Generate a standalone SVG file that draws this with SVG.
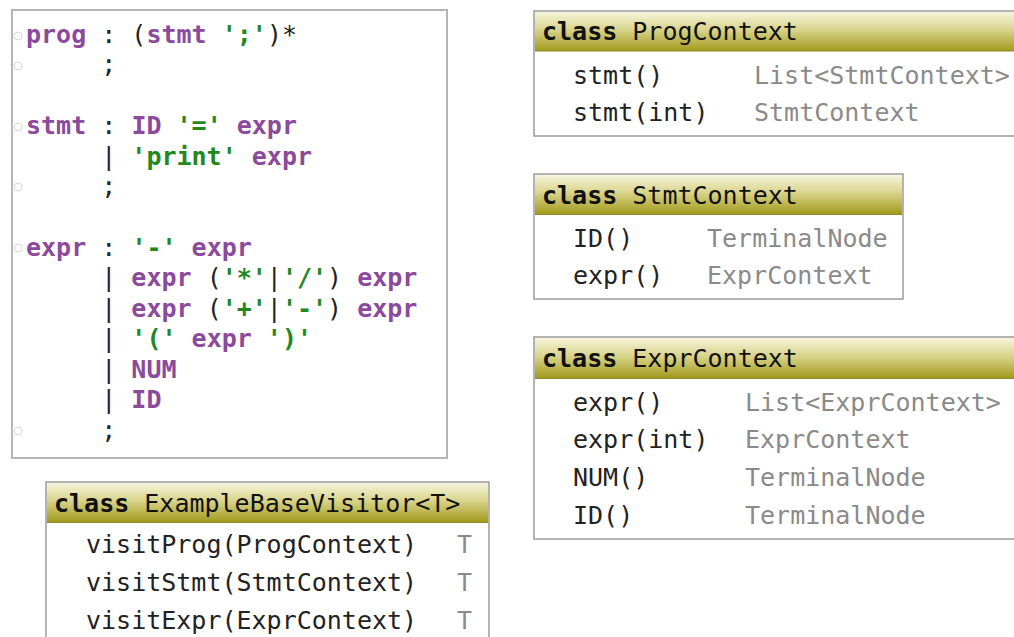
<svg xmlns="http://www.w3.org/2000/svg" width="1014" height="637" viewBox="0 0 1014 637">
<defs>
<linearGradient id="hdr" x1="0" y1="0" x2="0" y2="1">
<stop offset="0" stop-color="#f6f5dc"/>
<stop offset="0.45" stop-color="#d9d48c"/>
<stop offset="1" stop-color="#a39b1c"/>
</linearGradient>
<style>
.box{fill:#fff;stroke:#9a9a9a;stroke-width:1.5}
.hdr{fill:url(#hdr)}
.hline{stroke:#8f8a2a;stroke-width:1}
.mono{font-family:"DejaVu Sans Mono","Liberation Mono",monospace;font-size:25px}
.title{fill:#111}
.kw{font-weight:bold}
.mem{fill:#222}
.typ{fill:#8a8a8a}
.g{font-family:"DejaVu Sans Mono","Liberation Mono",monospace;font-size:25px;fill:#222}
.r{fill:#8b4a9b;font-weight:bold}
.s{fill:#23891f;font-weight:bold}
.fold{fill:none;stroke:#d8d8d8;stroke-width:1}
</style>
</defs>
<rect width="1014" height="637" fill="#fff"/>

<g id="grammar">
<rect x="12" y="10" width="435" height="448" fill="#fff" stroke="#b5b5b5" stroke-width="2"/>
<g class="fold">
<circle cx="18" cy="36" r="4"/><circle cx="18" cy="66" r="4"/><circle cx="18" cy="127" r="4"/><circle cx="18" cy="187" r="4"/><circle cx="18" cy="248" r="4"/><circle cx="18" cy="431" r="4"/>
</g>
<text class="g" x="26" y="43" xml:space="preserve"><tspan class="r">prog</tspan> : (<tspan class="r">stmt</tspan> <tspan class="s">';'</tspan>)*</text>
<text class="g" x="26" y="73" xml:space="preserve">     ;</text>
<text class="g" x="26" y="134" xml:space="preserve"><tspan class="r">stmt</tspan> : <tspan class="r">ID</tspan> <tspan class="s">'='</tspan> <tspan class="r">expr</tspan></text>
<text class="g" x="26" y="164.5" xml:space="preserve">     | <tspan class="s">'print'</tspan> <tspan class="r">expr</tspan></text>
<text class="g" x="26" y="195" xml:space="preserve">     ;</text>
<text class="g" x="26" y="255.5" xml:space="preserve"><tspan class="r">expr</tspan> : <tspan class="s">'-'</tspan> <tspan class="r">expr</tspan></text>
<text class="g" x="26" y="286" xml:space="preserve">     | <tspan class="r">expr</tspan> (<tspan class="s">'*'</tspan>|<tspan class="s">'/'</tspan>) <tspan class="r">expr</tspan></text>
<text class="g" x="26" y="316.5" xml:space="preserve">     | <tspan class="r">expr</tspan> (<tspan class="s">'+'</tspan>|<tspan class="s">'-'</tspan>) <tspan class="r">expr</tspan></text>
<text class="g" x="26" y="347" xml:space="preserve">     | <tspan class="s">'('</tspan> <tspan class="r">expr</tspan> <tspan class="s">')'</tspan></text>
<text class="g" x="26" y="377.5" xml:space="preserve">     | <tspan class="r">NUM</tspan></text>
<text class="g" x="26" y="408" xml:space="preserve">     | <tspan class="r">ID</tspan></text>
<text class="g" x="26" y="438.5" xml:space="preserve">     ;</text>
</g>

<g id="ProgContext">
<rect class="box" x="534" y="11" width="490" height="125"/>
<rect class="hdr" x="535" y="12" width="488" height="39"/>
<line class="hline" x1="535" y1="51" x2="1024" y2="51"/>
<text class="mono title" x="542" y="40"><tspan class="kw">class</tspan> ProgContext</text>
<text class="mono mem" x="573" y="84">stmt()</text>
<text class="mono typ" x="754" y="84">List&lt;StmtContext&gt;</text>
<text class="mono mem" x="573" y="121">stmt(int)</text>
<text class="mono typ" x="754" y="121">StmtContext</text>
</g>

<g id="StmtContext">
<rect class="box" x="534" y="174" width="369" height="125"/>
<rect class="hdr" x="535" y="175" width="367" height="39"/>
<line class="hline" x1="535" y1="214.5" x2="902" y2="214.5"/>
<text class="mono title" x="542" y="204"><tspan class="kw">class</tspan> StmtContext</text>
<text class="mono mem" x="573" y="247">ID()</text>
<text class="mono typ" x="707" y="247">TerminalNode</text>
<text class="mono mem" x="573" y="284">expr()</text>
<text class="mono typ" x="707" y="284">ExprContext</text>
</g>

<g id="ExprContext">
<rect class="box" x="534" y="337" width="490" height="202"/>
<rect class="hdr" x="535" y="338" width="488" height="40"/>
<line class="hline" x1="535" y1="378.5" x2="1024" y2="378.5"/>
<text class="mono title" x="542" y="367"><tspan class="kw">class</tspan> ExprContext</text>
<text class="mono mem" x="573" y="411">expr()</text>
<text class="mono typ" x="745" y="411">List&lt;ExprContext&gt;</text>
<text class="mono mem" x="573" y="448">expr(int)</text>
<text class="mono typ" x="745" y="448">ExprContext</text>
<text class="mono mem" x="573" y="486">NUM()</text>
<text class="mono typ" x="745" y="486">TerminalNode</text>
<text class="mono mem" x="573" y="524">ID()</text>
<text class="mono typ" x="745" y="524">TerminalNode</text>
</g>

<g id="ExampleBaseVisitor">
<rect class="box" x="46" y="482" width="443" height="170"/>
<rect class="hdr" x="47" y="483" width="441" height="39"/>
<line class="hline" x1="47" y1="522.5" x2="488" y2="522.5"/>
<text class="mono title" x="54" y="512"><tspan class="kw">class</tspan> ExampleBaseVisitor&lt;T&gt;</text>
<text class="mono mem" x="86" y="553">visitProg(ProgContext)</text>
<text class="mono typ" x="457" y="553">T</text>
<text class="mono mem" x="86" y="591">visitStmt(StmtContext)</text>
<text class="mono typ" x="457" y="591">T</text>
<text class="mono mem" x="86" y="629">visitExpr(ExprContext)</text>
<text class="mono typ" x="457" y="629">T</text>
</g>

<g id="connectors"></g>
</svg>
